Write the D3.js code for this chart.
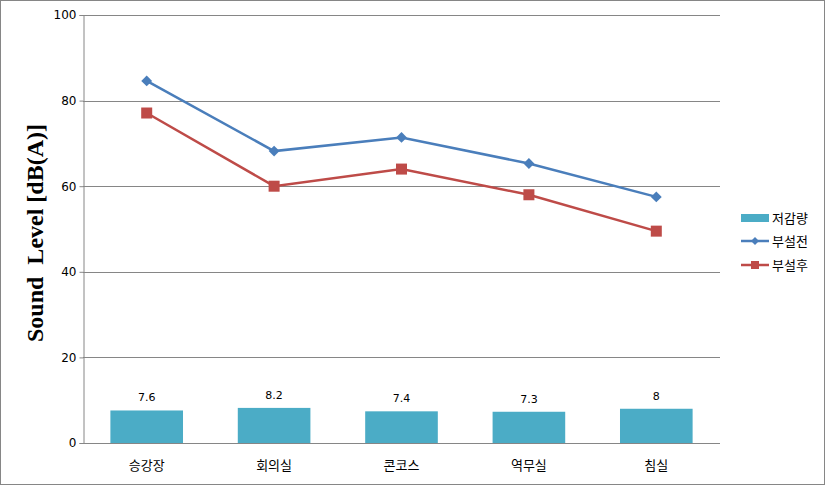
<!DOCTYPE html>
<html>
<head>
<meta charset="utf-8">
<script src="https://cdn.jsdelivr.net/npm/d3@7"></script>
<style>
body { margin: 0; background: #fff; }
text { font-family: "Noto Sans CJK KR", "DejaVu Sans", sans-serif; }
</style>
</head>
<body>
<svg id="chart" width="825" height="485"></svg>
<script>
var categories = ["승강장", "회의실", "콘코스", "역무실", "침실"];
var reduction = [7.6, 8.2, 7.4, 7.3, 8];
var before = [84.6, 68.2, 71.4, 65.3, 57.5];
var after = [77.1, 60, 64, 58, 49.5];
var yTicks = [0, 20, 40, 60, 80, 100];

var svg = d3.select("#chart");

svg.append("rect")
	.attr("x", 0.5).attr("y", 0.5)
	.attr("width", 824).attr("height", 484)
	.attr("fill", "#fff").attr("stroke", "#868686");

var plotLeft = 83, plotRight = 720, plotTop = 15, plotBottom = 443;

var x = d3.scaleBand().domain(categories).range([plotLeft, plotRight]).paddingInner(0.43).paddingOuter(0.215);
var xc = function(d) { return x(d) + x.bandwidth() / 2; };
var y = d3.scaleLinear().domain([0, 100]).range([plotBottom, plotTop]);

// gridlines
svg.append("g").selectAll("line").data(yTicks.slice(1))
	.enter().append("line")
	.attr("x1", plotLeft).attr("x2", plotRight)
	.attr("y1", function(d) { return Math.round(y(d)) + 0.5; })
	.attr("y2", function(d) { return Math.round(y(d)) + 0.5; })
	.attr("stroke", "#868686");

// y axis
var yAxis = svg.append("g")
	.attr("transform", "translate(" + (plotLeft + 0.5) + ",0)")
	.call(d3.axisLeft(y).tickValues(yTicks).tickSize(4).tickPadding(3));
yAxis.select(".domain").attr("stroke", "#868686");
yAxis.selectAll(".tick line").attr("stroke", "#868686");
yAxis.selectAll("text").attr("font-size", 12).attr("fill", "#000")
	.style("font-family", "'DejaVu Sans', sans-serif");

// bars
svg.append("g").selectAll("rect").data(categories)
	.enter().append("rect")
	.attr("x", function(d) { return x(d); })
	.attr("width", x.bandwidth())
	.attr("y", function(d, i) { return y(reduction[i]); })
	.attr("height", function(d, i) { return plotBottom - y(reduction[i]); })
	.attr("fill", "#4bacc6");

svg.append("g").selectAll("text").data(categories)
	.enter().append("text")
	.attr("x", xc)
	.attr("y", function(d, i) { return y(reduction[i]) - 9; })
	.attr("text-anchor", "middle")
	.attr("font-size", 11)
	.style("font-family", "'DejaVu Sans', sans-serif")
	.text(function(d, i) { return reduction[i]; });

// x axis
svg.append("line")
	.attr("x1", plotLeft).attr("x2", plotRight)
	.attr("y1", plotBottom + 0.5).attr("y2", plotBottom + 0.5)
	.attr("stroke", "#868686");

svg.append("g").selectAll("text").data(categories)
	.enter().append("text")
	.attr("x", xc)
	.attr("y", 470)
	.attr("text-anchor", "middle")
	.attr("font-size", 13)
	.text(function(d) { return d; });

// lines
var lineGen = d3.line()
	.x(function(d, i) { return xc(categories[i]); })
	.y(function(d) { return y(d); });

svg.append("path").datum(before)
	.attr("d", lineGen).attr("fill", "none")
	.attr("stroke", "#4a7ebb").attr("stroke-width", 2.5);

svg.append("path").datum(after)
	.attr("d", lineGen).attr("fill", "none")
	.attr("stroke", "#be4b48").attr("stroke-width", 2.5);

svg.append("g").selectAll("path").data(before)
	.enter().append("path")
	.attr("d", d3.symbol().type(d3.symbolDiamond2).size(75))
	.attr("transform", function(d, i) { return "translate(" + xc(categories[i]) + "," + y(d) + ")"; })
	.attr("fill", "#4a7ebb");

svg.append("g").selectAll("rect").data(after)
	.enter().append("rect")
	.attr("x", function(d, i) { return xc(categories[i]) - 5.5; })
	.attr("y", function(d) { return y(d) - 5.5; })
	.attr("width", 11).attr("height", 11)
	.attr("fill", "#be4b48");

// y label
svg.append("text")
	.attr("transform", "translate(43,233) rotate(-90)")
	.attr("text-anchor", "middle")
	.attr("font-size", 24)
	.attr("font-weight", "bold")
	.style("font-family", "'Liberation Serif', 'DejaVu Serif', serif")
	.style("white-space", "pre")
	.text("Sound  Level [dB(A)]");

// legend
var legend = svg.append("g").attr("transform", "translate(741,0)");
var legendItems = ["저감량", "부설전", "부설후"];
var legendY = [218, 241, 265];

legend.append("rect").attr("x", 0).attr("y", legendY[0] - 4).attr("width", 28).attr("height", 8).attr("fill", "#4bacc6");

legend.append("line").attr("x1", 0).attr("x2", 28).attr("y1", legendY[1]).attr("y2", legendY[1])
	.attr("stroke", "#4a7ebb").attr("stroke-width", 2.5);
legend.append("path").attr("d", d3.symbol().type(d3.symbolDiamond2).size(40))
	.attr("transform", "translate(14," + legendY[1] + ")").attr("fill", "#4a7ebb");

legend.append("line").attr("x1", 0).attr("x2", 28).attr("y1", legendY[2]).attr("y2", legendY[2])
	.attr("stroke", "#be4b48").attr("stroke-width", 2.5);
legend.append("rect").attr("x", 10).attr("y", legendY[2] - 4).attr("width", 8).attr("height", 8).attr("fill", "#be4b48");

legend.selectAll("text.lg").data(legendItems)
	.enter().append("text")
	.attr("class", "lg")
	.attr("x", 31)
	.attr("y", function(d, i) { return legendY[i] + 5; })
	.attr("font-size", 13)
	.text(function(d) { return d; });
</script>
</body>
</html>
